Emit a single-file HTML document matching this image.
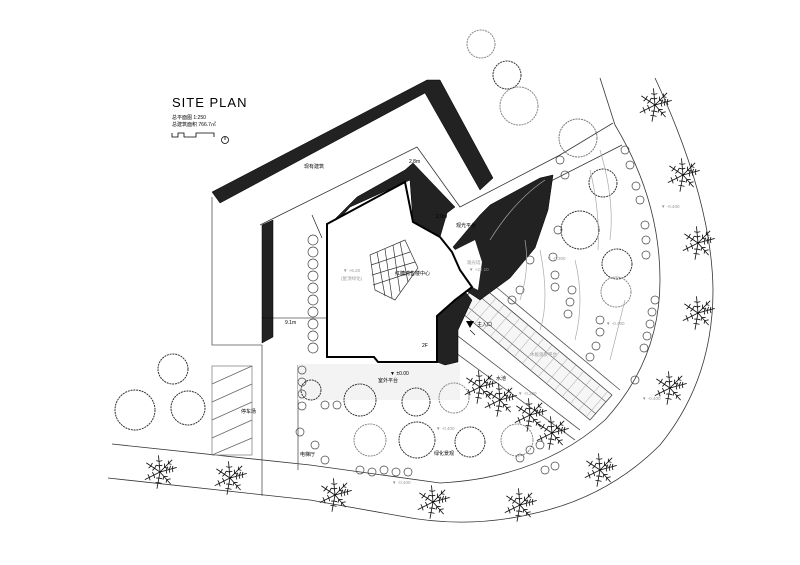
<!DOCTYPE html>
<html><head><meta charset="utf-8"><style>
html,body{margin:0;padding:0;background:#fff;}
svg{display:block;}
text{font-family:"Liberation Sans","Noto Sans CJK SC",sans-serif;}
</style></head><body>
<svg width="800" height="565" viewBox="0 0 800 565" xmlns="http://www.w3.org/2000/svg">
<defs>
<symbol id="palm" viewBox="-25 -25 50 50" overflow="visible">
<g stroke="#111" stroke-width="1.1" fill="none">
<path d="M0 0L22 -6M0 0L14 16M0 0L-4 22M0 0L-20 10M0 0L-18 -12M0 0L-2 -22M0 0L16 -16"/>
<path d="M8 -2l2 -5M12 -3l2 -5M16 -4l1 -4M8 -2l1 4M12 -3l1 4M16 -4l1 4M5 6l5 0M9 10l5 -1M5 6l-1 4M9 10l-1 4M-1 8l4 1M-2 14l4 1M-1 8l-4 0M-2 14l-4 0M-8 4l1 4M-14 7l1 4M-8 4l-2 -4M-14 7l-2 -4M-7 -5l-3 3M-12 -8l-3 3M-7 -5l2 -4M-12 -8l2 -4M-1 -8l-4 -1M-1 -14l-4 -1M-1 -8l4 -1M-1 -14l4 -1M6 -6l0 -5M11 -11l0 -4M6 -6l5 1M11 -11l4 1"/>
</g></symbol>
</defs>
<g fill="none" stroke="#000" stroke-width="0.8">
<path d="M112 444 L310 465 L440 483 Q540 478 605 420 Q660 360 660 280 Q660 200 615 125 L600 78" stroke="#333"/>
<path d="M108 478 L310 500 L400 516 Q470 530 540 512 Q610 495 660 445 Q713 380 713 290 Q712 200 655 78" stroke="#333"/>
<path d="M262 345 L262 496 M298 365 L298 470 M212 197 L212 345 L262 345" stroke="#555"/>
<path d="M260 225 L417 147 L460 207 L560 155 L613 123 M480 217 L622 145" stroke="#333"/>
<rect x="212" y="366" width="40" height="89" stroke="#888"/>
<path d="M212 384 L252 366 M212 402 L252 384 M212 420 L252 402 M212 438 L252 420 M212 455 L252 438" stroke="#666"/>
<rect x="298" y="364" width="162" height="36" fill="#f3f3f3" stroke="none"/>
<!-- ramp -->
<polygon points="478,283 612,395 590,420 456,308" fill="#f6f6f6" stroke="#444"/>
<path d="M472,290 L606,402 M462,302 L596,414" stroke="#555" stroke-width="0.6"/>
<g stroke="#999" stroke-width="0.5">
<path d="M488 291 L466 317 M496 298 L474 324 M504 305 L482 331 M512 311 L490 337 M520 318 L498 344 M528 325 L506 351 M536 331 L514 357 M544 338 L522 364 M552 345 L530 371 M560 351 L538 377 M568 358 L546 384 M576 365 L554 391 M584 371 L562 397 M592 378 L570 404 M600 385 L578 411 M608 391 L586 417"/>
</g>
<path d="M450 330 L580 430 M445 345 L575 440 M490 282 L620 390" stroke="#555"/>
</g>
<g fill="#222" stroke="#000" stroke-width="0.5">
<polygon points="212,192 427,80 440,80 493,178 480,190 425,93 220,203"/>
<polygon points="262,225 273,220 273,337 262,343"/>
<polygon points="330,224 357,197 405,170 413,163 455,207 447,213 440,237 428,230 413,222 410,180 350,207 335,224"/>
<polygon points="453,247 480,215 490,205 540,178 553,175 548,210 535,248 510,278 480,300 465,290 472,270"/>
<polygon points="437,318 462,288 472,300 458,330 458,362 445,365 437,362"/>
</g>
<polygon points="455,250 475,240 482,262 478,290 462,282 458,268" fill="#fff"/>
<polygon points="327,224 405,182 413,222 440,237 452,252 460,270 472,287 455,300 437,316 437,362 378,362 374,357 327,357" fill="#fff" stroke="#000" stroke-width="2"/>
<g stroke="#333" stroke-width="0.7" fill="#fff">
<polygon points="370,255 405,240 418,268 395,300 375,290"/>
<path d="M377 252 L385 296 M385 249 L392 298 M393 245 L400 292 M400 242 L408 282 M371 265 L410 252 M372 275 L415 262 M373 285 L412 272"/>
</g>
<g fill="none" stroke="#333" stroke-width="1" stroke-dasharray="2 0.8">
<circle cx="481" cy="44" r="14" stroke="#888"/><circle cx="507" cy="75" r="14"/><circle cx="519" cy="106" r="19" stroke="#888"/>
<circle cx="578" cy="138" r="19" stroke="#777"/><circle cx="603" cy="183" r="14"/><circle cx="580" cy="230" r="19"/>
<circle cx="617" cy="264" r="15"/><circle cx="616" cy="292" r="15" stroke="#888"/>
<circle cx="135" cy="410" r="20"/><circle cx="188" cy="408" r="17"/><circle cx="173" cy="369" r="15"/>
<circle cx="360" cy="400" r="16"/><circle cx="416" cy="402" r="14"/><circle cx="454" cy="398" r="15" stroke="#888"/>
<circle cx="370" cy="440" r="16" stroke="#888"/><circle cx="417" cy="440" r="18"/><circle cx="470" cy="442" r="15"/><circle cx="517" cy="440" r="16" stroke="#888"/>
<circle cx="311" cy="390" r="10"/>
</g>
<g fill="none" stroke="#444" stroke-width="0.7">
<circle cx="313" cy="240" r="5"/><circle cx="313" cy="252" r="5"/><circle cx="313" cy="264" r="5"/><circle cx="313" cy="276" r="5"/><circle cx="313" cy="288" r="5"/><circle cx="313" cy="300" r="5"/><circle cx="313" cy="312" r="5"/><circle cx="313" cy="324" r="5"/><circle cx="313" cy="336" r="5"/><circle cx="313" cy="348" r="5"/>
<circle cx="302" cy="370" r="4"/><circle cx="302" cy="382" r="4"/><circle cx="302" cy="394" r="4"/><circle cx="302" cy="406" r="4"/><circle cx="325" cy="405" r="4"/><circle cx="337" cy="405" r="4"/>
<circle cx="300" cy="432" r="4"/><circle cx="315" cy="445" r="4"/><circle cx="325" cy="460" r="4"/>
<circle cx="360" cy="470" r="4"/><circle cx="372" cy="472" r="4"/><circle cx="384" cy="470" r="4"/><circle cx="396" cy="472" r="4"/><circle cx="408" cy="472" r="4"/>
<circle cx="520" cy="458" r="4"/><circle cx="530" cy="450" r="4"/><circle cx="540" cy="445" r="4"/><circle cx="545" cy="470" r="4"/><circle cx="555" cy="466" r="4"/>
<circle cx="625" cy="150" r="4"/><circle cx="630" cy="165" r="4"/><circle cx="636" cy="186" r="4"/><circle cx="640" cy="200" r="4"/><circle cx="645" cy="225" r="4"/><circle cx="646" cy="240" r="4"/><circle cx="646" cy="255" r="4"/>
<circle cx="655" cy="300" r="4"/><circle cx="652" cy="312" r="4"/><circle cx="650" cy="324" r="4"/><circle cx="647" cy="336" r="4"/><circle cx="644" cy="348" r="4"/>
<circle cx="560" cy="160" r="4"/><circle cx="565" cy="175" r="4"/><circle cx="558" cy="230" r="4"/><circle cx="553" cy="257" r="4"/><circle cx="530" cy="260" r="4"/><circle cx="520" cy="290" r="4"/><circle cx="512" cy="300" r="4"/>
<circle cx="555" cy="275" r="4"/><circle cx="555" cy="287" r="4"/><circle cx="572" cy="290" r="4"/><circle cx="570" cy="302" r="4"/><circle cx="568" cy="314" r="4"/>
<circle cx="600" cy="320" r="4"/><circle cx="600" cy="332" r="4"/><circle cx="596" cy="346" r="4"/><circle cx="590" cy="357" r="4"/><circle cx="635" cy="380" r="4"/>
</g>
<g fill="none" stroke="#aaa" stroke-width="0.7">
<path d="M600 150 Q615 200 610 240 M590 170 Q600 210 598 250 M575 260 Q585 300 575 340 M540 250 Q550 300 540 330 M625 300 L610 360 M520 300 Q530 270 525 240"/>
<path d="M490 240 Q515 200 545 180"/>
</g>
<g>
<use href="#palm" x="636" y="86" width="38" height="38"/>
<use href="#palm" x="664" y="156" width="38" height="38"/>
<use href="#palm" x="679" y="224" width="38" height="38"/>
<use href="#palm" x="679" y="294" width="38" height="38"/>
<use href="#palm" x="651" y="369" width="38" height="38"/>
<use href="#palm" x="581" y="451" width="38" height="38"/>
<use href="#palm" x="501" y="486" width="38" height="38"/>
<use href="#palm" x="414" y="483" width="38" height="38"/>
<use href="#palm" x="316" y="476" width="38" height="38"/>
<use href="#palm" x="211" y="459" width="38" height="38"/>
<use href="#palm" x="141" y="453" width="38" height="38"/>
<use href="#palm" x="461" y="368" width="38" height="38"/>
<use href="#palm" x="481" y="381" width="38" height="38"/>
<use href="#palm" x="511" y="396" width="38" height="38"/>
<use href="#palm" x="533" y="414" width="38" height="38"/>
</g>
<g fill="#000">
<text x="172" y="107" font-size="13" font-family="Liberation Mono,monospace" letter-spacing="1">SITE PLAN</text>
<text x="172" y="119" font-size="5">总平面图  1:250</text>
<text x="172" y="126" font-size="5">总建筑面积  766.7㎡</text>
<text x="304" y="168" font-size="5">现有建筑</text>
<text x="395" y="275" font-size="5">红糖湾售楼中心</text>
<text x="422" y="347" font-size="5">2F</text>
<text x="477" y="326" font-size="5">主入口</text>
<text x="378" y="382" font-size="5">室外平台</text>
<text x="390" y="375" font-size="5">▼ ±0.00</text>
<text x="496" y="380" font-size="5">水池</text>
<text x="241" y="413" font-size="5">停车场</text>
<text x="300" y="456" font-size="5">电梯厅</text>
<text x="434" y="455" font-size="5">绿化景观</text>
<text x="456" y="227" font-size="5">观光平台</text>
<text x="285" y="324" font-size="5">9.1m</text>
<text x="409" y="163" font-size="5">2.8m</text>
<text x="436" y="218" font-size="5">2.0m</text>
</g>
<g fill="#999" font-size="4.5">
<text x="343" y="272">▼ +6.20</text><text x="341" y="280">(屋顶绿化)</text>
<text x="467" y="264">观光塔</text><text x="469" y="271">▼ +22.10</text>
<text x="547" y="260">▼ -0.300</text><text x="606" y="325">▼ -0.400</text>
<text x="661" y="208">▼ -0.400</text><text x="642" y="400">▼ -0.400</text>
<text x="436" y="430">▼ -0.400</text><text x="392" y="484">▼ -0.400</text>
<text x="518" y="395">▼ -0.200</text><text x="530" y="356">木板观景平台</text>
</g>
<g stroke="#000" stroke-width="0.8" fill="none">
<path d="M172 133 L172 137 L178 137 L178 133 L184 133 L184 137 L196 137 L196 133 L214 133 L214 137"/>
<circle cx="225" cy="140" r="3.5"/><path d="M225 137 L225 140"/>
<path d="M262 318 L326 318 M312 215 L322 238 M470 330 L475 335" stroke-width="0.6"/>
</g>
<polygon points="466,321 474,321 470,328" fill="#000"/>
</svg>
</body></html>
